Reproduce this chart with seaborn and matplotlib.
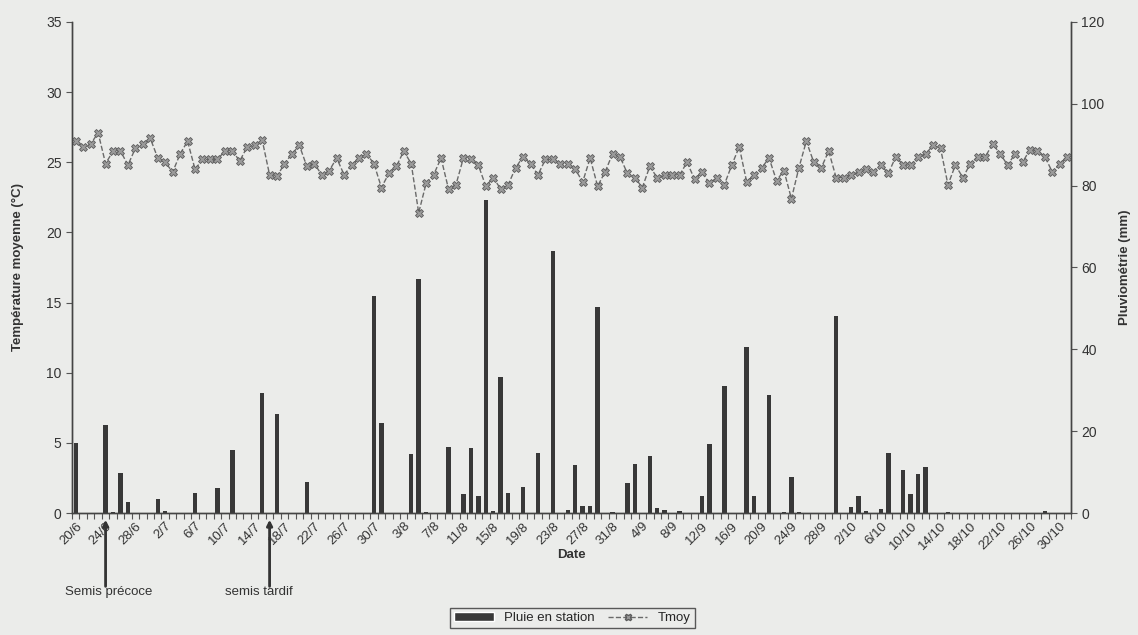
import matplotlib
matplotlib.use("Agg")
import numpy as np
import pandas as pd
import matplotlib.pyplot as plt
import seaborn as sns
from matplotlib.patches import Patch
from matplotlib.lines import Line2D

# daily series, 20/6 -> 31/10
jours = [f"{d.day}/{d.month}" for d in pd.date_range("2000-06-20", "2000-10-31")]

# rain at the station (mm), right axis
pluie = [
    17.1, 0, 0, 0, 21.5, 0.3, 9.7, 2.6, 0, 0,
    0, 3.4, 0.5, 0, 0, 0, 4.8, 0, 0, 6.2,
    0, 15.4, 0, 0, 0, 29.3, 0, 24.1, 0, 0,
    0, 7.5, 0, 0, 0, 0, 0, 0, 0, 0,
    53.1, 22.1, 0, 0, 0, 14.4, 57.2, 0.3, 0, 0,
    16.1, 0, 4.6, 16.0, 4.2, 76.5, 0.5, 33.2, 4.8, 0,
    6.4, 0, 14.7, 0, 64.1, 0, 0.8, 11.7, 1.8, 1.8,
    50.4, 0, 0.3, 0, 7.3, 11.9, 0, 14.0, 1.2, 0.8,
    0, 0.4, 0, 0, 4.2, 16.8, 0, 31.1, 0, 0,
    40.5, 4.2, 0, 28.8, 0, 0.3, 8.9, 0.3, 0, 0,
    0, 0, 48.2, 0, 1.5, 4.2, 0.4, 0, 1.0, 14.6,
    0, 10.5, 4.6, 9.5, 11.3, 0, 0, 0.3, 0, 0,
    0, 0, 0, 0, 0, 0, 0, 0, 0, 0,
    0.5, 0, 0, 0,
]

# mean daily temperature (degC), left axis
tmoy = [
    26.5, 26.1, 26.3, 27.1, 24.9, 25.8, 25.8, 24.8, 26.0, 26.3,
    26.7, 25.3, 25.0, 24.3, 25.6, 26.5, 24.5, 25.2, 25.2, 25.2,
    25.8, 25.8, 25.1, 26.1, 26.2, 26.6, 24.1, 24.0, 24.9, 25.6,
    26.2, 24.7, 24.9, 24.1, 24.4, 25.3, 24.1, 24.8, 25.3, 25.6,
    24.9, 23.2, 24.2, 24.7, 25.8, 24.9, 21.4, 23.5, 24.1, 25.3,
    23.1, 23.4, 25.3, 25.2, 24.8, 23.3, 23.9, 23.1, 23.4, 24.6,
    25.4, 24.9, 24.1, 25.2, 25.2, 24.9, 24.9, 24.5, 23.6, 25.3,
    23.3, 24.3, 25.6, 25.4, 24.2, 23.9, 23.2, 24.7, 23.9, 24.1,
    24.1, 24.1, 25.0, 23.8, 24.3, 23.5, 23.9, 23.4, 24.8, 26.1,
    23.6, 24.1, 24.6, 25.3, 23.7, 24.4, 22.4, 24.6, 26.5, 25.0,
    24.6, 25.8, 23.9, 23.9, 24.1, 24.3, 24.5, 24.3, 24.8, 24.2,
    25.4, 24.8, 24.8, 25.4, 25.6, 26.2, 26.0, 23.4, 24.8, 23.9,
    24.9, 25.4, 25.4, 26.3, 25.6, 24.8, 25.6, 25.0, 25.9, 25.8,
    25.4, 24.3, 24.9, 25.4,
]

tick_labels = ["20/6", "24/6", "28/6", "2/7", "6/7", "10/7", "14/7", "18/7",
               "22/7", "26/7", "30/7", "3/8", "7/8", "11/8", "15/8", "19/8",
               "23/8", "27/8", "31/8", "4/9", "8/9", "12/9", "16/9", "20/9",
               "24/9", "28/9", "2/10", "6/10", "10/10", "14/10", "18/10",
               "22/10", "26/10", "30/10"]

semis = [("24/6", "Semis précoce"), ("16/7", "semis tardif")]

df = pd.DataFrame({"jour": jours, "pluie": pluie, "tmoy": tmoy})
df["pos"] = df.index

bg = "#ebecea"
txt = "#333333"

sns.set_style("ticks")
plt.rcParams["font.family"] = ["Liberation Sans", "DejaVu Sans"]

fig = plt.figure(figsize=(11.38, 6.35), dpi=100, facecolor=bg)
ax = fig.add_axes([0.0633, 0.1921, 0.8778, 0.7733])
ax.set_facecolor(bg)
ax2 = ax.twinx()

# categorical bars: one slot per day, positions 0..n-1
sns.barplot(data=df, x="jour", y="pluie", order=jours, width=0.6,
            color="#383838", saturation=1, linewidth=0, ax=ax2)
ax2.xaxis.set_visible(False)

sns.lineplot(x=df["pos"].to_numpy(), y=df["tmoy"].to_numpy(), ax=ax,
             color="#6a6a6a", linestyle="--", linewidth=1, marker="X",
             markersize=5.2, markerfacecolor="#9a9a9a", markeredgecolor="#5a5a5a",
             markeredgewidth=0.6)

ax.set_zorder(ax2.get_zorder() + 1)
ax.patch.set_visible(False)

ax.set_ylim(0, 35)
ax.set_yticks(np.arange(0, 36, 5))
ax2.set_ylim(0, 120)
ax2.set_yticks(np.arange(0, 121, 20))

pos = [jours.index(t) for t in tick_labels]
ax.set_xticks(pos)
ax.set_xticklabels(tick_labels, rotation=45, ha="right", rotation_mode="anchor",
                   fontsize=9.5, color=txt)
ax.set_xticks(np.arange(-0.5, len(jours), 1), minor=True)
ax.set_xlim(-0.5, len(jours) - 0.5)
ax.tick_params(axis="x", which="major", length=0, pad=5)
ax.tick_params(axis="x", which="minor", length=4, width=0.8, color="#555555")
ax.tick_params(axis="y", labelsize=10, labelcolor=txt, length=4, color="#555555")
ax2.tick_params(axis="y", labelsize=10, labelcolor=txt, length=4, color="#555555")

for a in (ax, ax2):
    a.spines["top"].set_visible(False)
    for s in ("left", "right", "bottom"):
        a.spines[s].set_color("#444444")
        a.spines[s].set_linewidth(1)

ax.set_xlabel("Date", fontsize=9.5, fontweight="bold", color=txt)
ax.xaxis.set_label_coords(0.5, -0.073)
ax.set_ylabel("Température moyenne (°C)", fontsize=9.5, fontweight="bold", color=txt)
ax.yaxis.set_label_coords(-0.048, 0.5)
ax2.set_ylabel("Pluviométrie (mm)", fontsize=9.5, fontweight="bold", color=txt)
ax2.yaxis.set_label_coords(1.048, 0.5)

# sowing dates
xtr = ax.get_xaxis_transform()
for (jour, label), fx in zip(semis, (0.057, 0.198)):
    i = jours.index(jour)
    ax.annotate("", xy=(i, -0.008), xycoords=xtr, xytext=(i, -0.155), textcoords=xtr,
                arrowprops=dict(arrowstyle="-|>", color="#333333", lw=2, mutation_scale=8),
                annotation_clip=False)
    fig.text(fx, 0.068, label, fontsize=9.5, color=txt, va="center")

handles = [
    Patch(facecolor="#383838", label="Pluie en station"),
    Line2D([], [], color="#6a6a6a", linestyle="--", linewidth=1, marker="X",
           markersize=5, markerfacecolor="#9a9a9a", markeredgecolor="#5a5a5a",
           label="Tmoy"),
]
leg = fig.legend(handles=handles, loc="lower center", bbox_to_anchor=(0.503, 0.0),
                 ncol=2, frameon=True, fancybox=False, fontsize=9.5,
                 handlelength=3, columnspacing=1.0, borderpad=0.3)
leg.get_frame().set_edgecolor("#333333")
leg.get_frame().set_facecolor(bg)

fig.savefig("out.png", dpi=100, facecolor=bg)
